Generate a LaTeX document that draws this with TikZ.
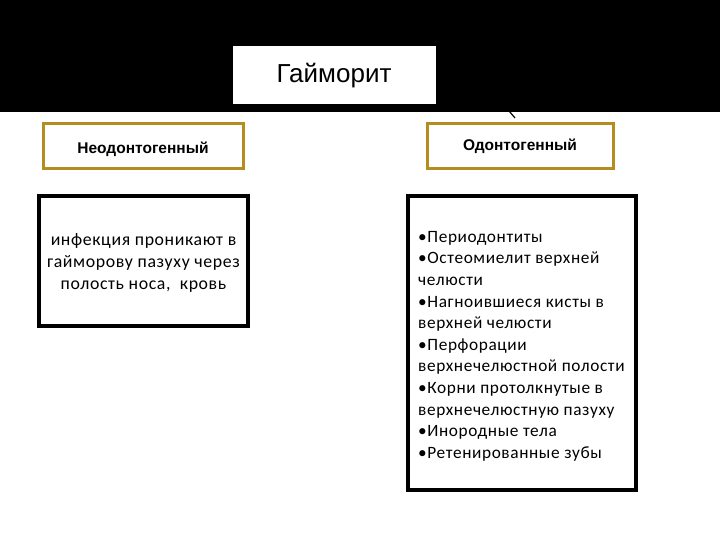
\documentclass[tikz,border=0pt]{standalone}
\usepackage{fontspec}
\setmainfont{Carlito}[LetterSpace=3.5]
\newfontfamily\hdrfont{Liberation Sans}
\definecolor{goldc}{RGB}{181,140,32}
\begin{document}
\begin{tikzpicture}[x=1pt,y=-1pt,
  hdrbox/.style={draw=goldc,line width=3pt,fill=white,minimum width=#1,minimum height=45pt,inner sep=0pt},
  hdrtext/.style={font=\hdrfont\bfseries\fontsize{15.5}{17}\selectfont,inner sep=0pt},
  bodybox/.style={draw=black,line width=3.5pt,fill=white,inner sep=0pt},
  bodytext/.style={font=\fontsize{17.3}{21.6}\selectfont,inner sep=0pt}]
\useasboundingbox (0,0) rectangle (720,540);
\fill[white] (0,0) rectangle (720,540);
\fill[black] (0,0) rectangle (720,112);
\node[fill=white,draw=black,line width=1pt,minimum width=204pt,minimum height=59pt,inner sep=0pt,
  font=\hdrfont\fontsize{26}{28}\selectfont] (title) at (334,75.5) {Гайморит};
\node[hdrbox=200pt] (neo) at (143,146.5) {};
\node[hdrtext] (neot0) at (143,149.5) {Неодонтогенный};
\node[hdrbox=186pt] (odo) at (520,146.5) {};
\node[hdrtext] (odot0) at (520,146.5) {Одонтогенный};
\draw[bodybox] (39,196) rectangle (248,326);
\node[bodytext,align=center,font=\fontsize{17.8}{21.6}\selectfont] (neot) at (143.5,263) {инфекция проникают в\\гайморову пазуху через\\полость носа,~ кровь};
\draw[bodybox] (408,196) rectangle (636,490);
\node[bodytext,align=left,anchor=north west] (odot) at (418,231) {•Периодонтиты\\•Остеомиелит верхней\\челюсти\\•Нагноившиеся кисты в\\верхней челюсти\\•Перфорации\\верхнечелюстной полости\\•Корни протолкнутые в\\верхнечелюстную пазуху\\•Инородные тела\\•Ретенированные зубы};
\coordinate (t1) at (509,111);
\coordinate (t2) at (515,118);
\draw[black,line width=1.2pt] (t1) -- (t2);
\end{tikzpicture}
\end{document}
